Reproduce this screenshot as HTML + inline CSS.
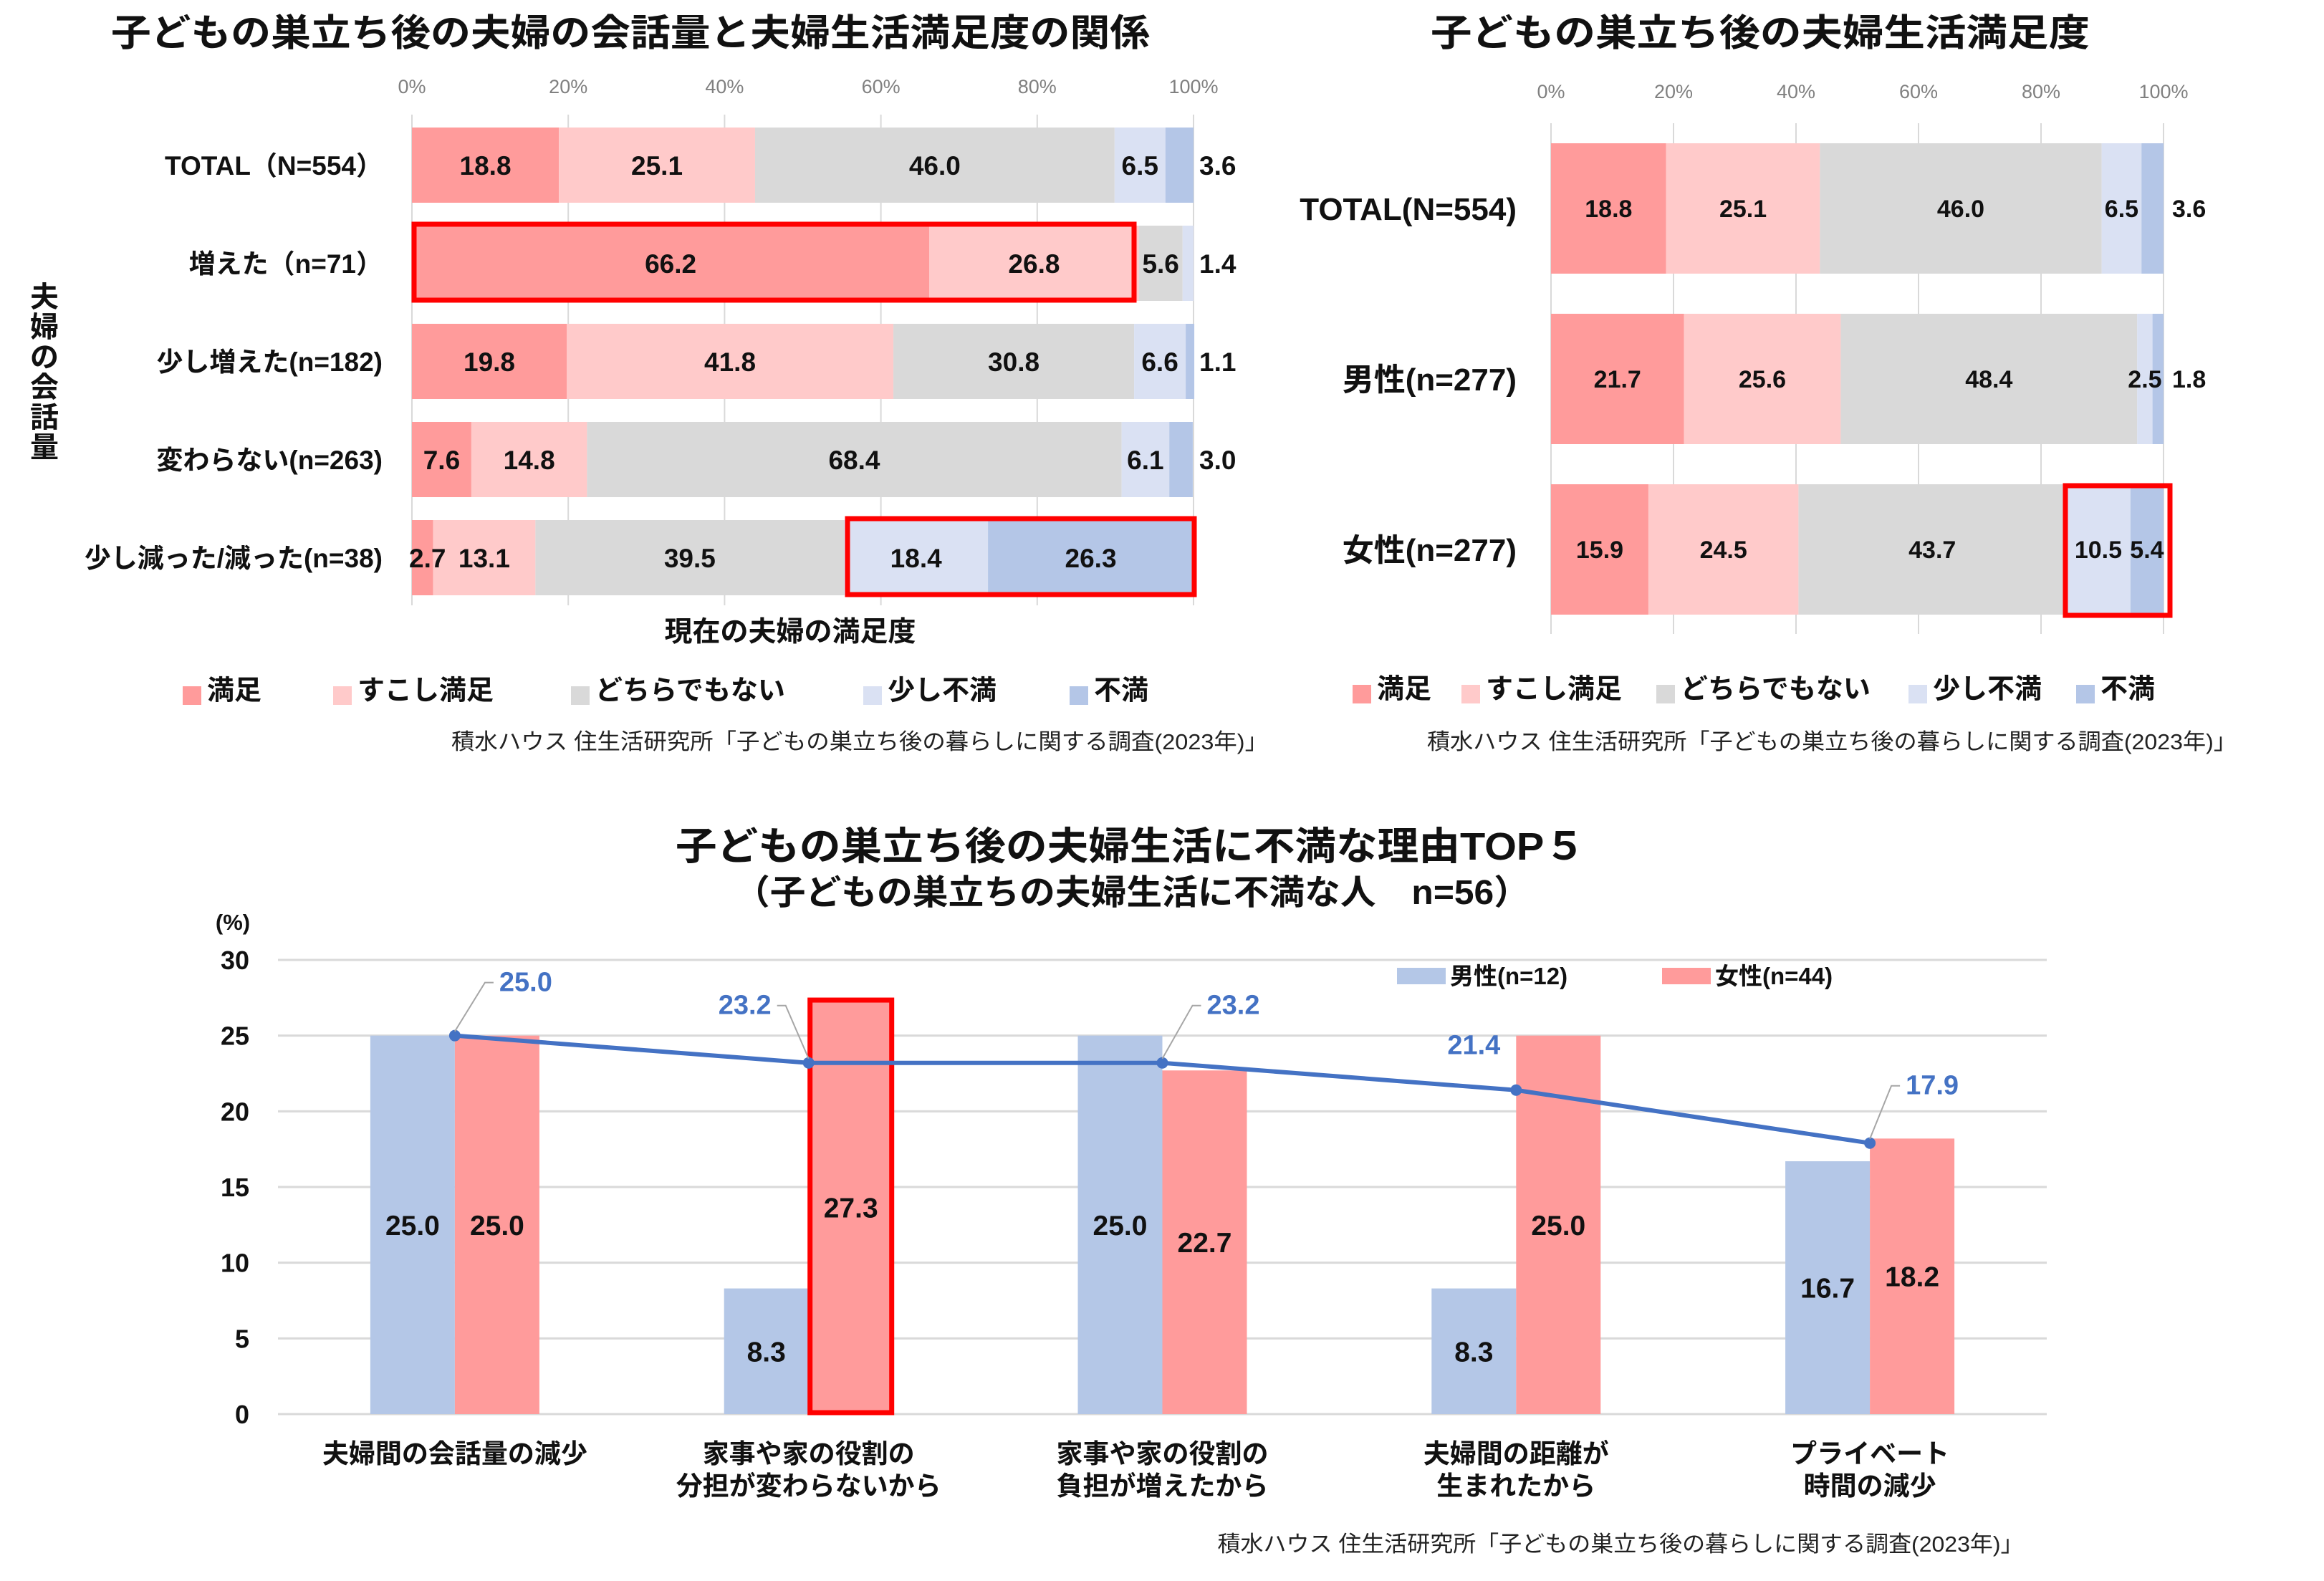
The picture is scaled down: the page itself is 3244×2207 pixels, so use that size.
<!DOCTYPE html>
<html><head><meta charset="utf-8">
<style>
html,body{margin:0;padding:0;background:#fff;}
svg{display:block;font-family:"Liberation Sans","Noto Sans CJK JP",sans-serif;}
</style></head>
<body>
<svg id="root" width="3244" height="2207" viewBox="0 0 3244 2207" xmlns="http://www.w3.org/2000/svg">
<rect x="0" y="0" width="3244" height="2207" fill="#fff"/>
</svg>
<script>
// ---------- Data ----------
const segNames = ['満足','すこし満足','どちらでもない','少し不満','不満'];
const c1Cats = ['TOTAL（N=554）','増えた（n=71）','少し増えた(n=182)','変わらない(n=263)','少し減った/減った(n=38)'];
const c1Sat = [18.8,66.2,19.8,7.6,2.7];
const c1Some = [25.1,26.8,41.8,14.8,13.1];
const c1Neutral = [46.0,5.6,30.8,68.4,39.5];
const c1SlightDis = [6.5,1.4,6.6,6.1,18.4];
const c1Dis = [3.6,0,1.1,3.0,26.3];
const c2Cats = ['TOTAL(N=554)','男性(n=277)','女性(n=277)'];
const c2Sat = [18.8,21.7,15.9];
const c2Some = [25.1,25.6,24.5];
const c2Neutral = [46.0,48.4,43.7];
const c2SlightDis = [6.5,2.5,10.5];
const c2Dis = [3.6,1.8,5.4];
const pctTicks = ['0%','20%','40%','60%','80%','100%'];
const c3Cats = [['夫婦間の会話量の減少'],['家事や家の役割の','分担が変わらないから'],['家事や家の役割の','負担が増えたから'],['夫婦間の距離が','生まれたから'],['プライベート','時間の減少']];
const c3Male = [25.0,8.3,25.0,8.3,16.7];
const c3Female = [25.0,27.3,22.7,25.0,18.2];
const c3Total = [25.0,23.2,23.2,21.4,17.9];
const c3Ticks = [0,5,10,15,20,25,30];

const colors = ['#FF9B9B','#FFCACA','#D9D9D9','#DAE1F3','#B4C6E7'];
const NS='http://www.w3.org/2000/svg';
const root=document.getElementById('root');
function el(tag,attrs,parent,text){const e=document.createElementNS(NS,tag);for(const k in attrs)e.setAttribute(k,attrs[k]);if(text!==undefined)e.textContent=text;(parent||root).appendChild(e);return e;}

// ---------- Stacked chart helper ----------
function stacked(cfg){
  const g=el('g',{});
  
  
  const x=v=>cfg.x0+(cfg.x1-cfg.x0)*v/100;
  for(let i=0;i<pctTicks.length;i++){
    const xv=x(i*20);
    const gl=el('line',{x1:xv,x2:xv,y1:cfg.gy0,y2:cfg.gy1,stroke:'#D9D9D9','stroke-width':2},g);
    
    
    const t=el('text',{x:xv,y:cfg.tickY,'text-anchor':'middle','font-size':27,fill:'#808080'},g,pctTicks[i]);
    
    
  }
  const series=cfg.series;
  for(let r=0;r<cfg.cats.length;r++){
    const yt=cfg.barY0+r*cfg.pitch;
    const cl=el('text',{x:cfg.catX,y:yt+cfg.barH/2+cfg.catSize*0.36,'text-anchor':'end','font-size':cfg.catSize,'font-weight':'bold',fill:'#111'},g,cfg.cats[r]);
    
    
    let acc=0;
    const labels=[];
    for(let s=0;s<5;s++){
      const v=series[s][r];
      const xa=x(acc),xb=x(acc+v);
      acc+=v;
      if(v<=0)continue;
      const rc=el('rect',{x:xa,y:yt,width:xb-xa,height:cfg.barH,fill:colors[s]},g);
      
      
      let lx=(xa+xb)/2,anchor='middle';
      if(s===4 && v<cfg.outsideThresh){lx=x(100)+cfg.outOff;anchor='start';}
      else if(s===3 && v<2){lx=x(100)+cfg.outOff;anchor='start';}
      else if(s===0 && v<4){lx=xa-4;anchor='start';}
      labels.push([lx,anchor,v]);
    }
    labels.forEach(L=>{
      const lb=el('text',{x:L[0],y:yt+cfg.barH/2+cfg.valSize*0.36,'text-anchor':L[1],'font-size':cfg.valSize,'font-weight':'bold',fill:'#111'},g,L[2].toFixed(1));
      
      
    });
  }
  return g;
}

// ---------- Chart 1 ----------
let t=el('text',{x:880,y:64,'text-anchor':'middle','font-size':52,'font-weight':'bold',fill:'#111',textLength:1450,lengthAdjust:'spacingAndGlyphs'},root,'子どもの巣立ち後の夫婦の会話量と夫婦生活満足度の関係');


stacked({name:'chart1-stacked-bars',x0:575,x1:1666,gy0:160,gy1:845,tickY:130,barY0:178,pitch:137,barH:105,cats:c1Cats,catX:534,catSize:37,valSize:37,series:[c1Sat,c1Some,c1Neutral,c1SlightDis,c1Dis],outsideThresh:4,outOff:8});
let rb=el('rect',{x:578,y:313,width:1005,height:106,fill:'none',stroke:'#FF0000','stroke-width':7});


rb=el('rect',{x:1183,y:724,width:484,height:106,fill:'none',stroke:'#FF0000','stroke-width':7});


const yt1=['夫','婦','の','会','話','量'];
const ytg=el('g',{});


yt1.forEach((c,i)=>{el('text',{x:62,y:428+i*42,'text-anchor':'middle','font-size':40,'font-weight':'bold',fill:'#111'},ytg,c);});
t=el('text',{x:1103,y:895,'text-anchor':'middle','font-size':39,'font-weight':'bold',fill:'#111'},root,'現在の夫婦の満足度');


function legend(xs,y,size,fs){
  const lg=el('g',{});
  
  
  for(let i=0;i<5;i++){
    const e=el('g',{},lg);
    
    
    el('rect',{x:xs[i],y:y-size/2+8,width:size,height:size,fill:colors[i]},e);
    el('text',{x:xs[i]+size+8,y:y+fs*0.36,'font-size':fs,'font-weight':'bold',fill:'#111'},e,segNames[i]);
  }
}
legend([255,465,797,1205,1493],963,26,38);
t=el('text',{x:1200,y:1046,'text-anchor':'middle','font-size':31,fill:'#222',textLength:1140,lengthAdjust:'spacingAndGlyphs'},root,'積水ハウス 住生活研究所「子どもの巣立ち後の暮らしに関する調査(2023年)」');



// ---------- Chart 2 ----------
t=el('text',{x:2457,y:64,'text-anchor':'middle','font-size':52,'font-weight':'bold',fill:'#111',textLength:920,lengthAdjust:'spacingAndGlyphs'},root,'子どもの巣立ち後の夫婦生活満足度');


stacked({name:'chart2-stacked-bars',x0:2165,x1:3020,gy0:172,gy1:885,tickY:137,barY0:200,pitch:238,barH:182,cats:c2Cats,catX:2117,catSize:44,valSize:34,series:[c2Sat,c2Some,c2Neutral,c2SlightDis,c2Dis],outsideThresh:4,outOff:12});
rb=el('rect',{x:2883,y:678,width:146,height:181,fill:'none',stroke:'#FF0000','stroke-width':7});


legend([1888,2040,2312,2664,2898],961,26,38);
t=el('text',{x:2557,y:1046,'text-anchor':'middle','font-size':31,fill:'#222',textLength:1130,lengthAdjust:'spacingAndGlyphs'},root,'積水ハウス 住生活研究所「子どもの巣立ち後の暮らしに関する調査(2023年)」');



// ---------- Chart 3 ----------
t=el('text',{x:1578,y:1200,'text-anchor':'middle','font-size':54,'font-weight':'bold',fill:'#111',textLength:1270,lengthAdjust:'spacingAndGlyphs'},root,'子どもの巣立ち後の夫婦生活に不満な理由TOP５');


t=el('text',{x:1580,y:1262,'text-anchor':'middle','font-size':48,'font-weight':'bold',fill:'#111',textLength:1110,lengthAdjust:'spacingAndGlyphs'},root,'（子どもの巣立ちの夫婦生活に不満な人　n=56）');


const P={x0:388,x1:2857,y0:1974,y1:1340};
const yS=v=>P.y0+(P.y1-P.y0)*v/30;
const band=(P.x1-P.x0)/5;
const cx=i=>P.x0+band*(i+0.5);
const bw=118;
const g3=el('g',{});


t=el('text',{x:325,y:1298,'text-anchor':'middle','font-size':31,'font-weight':'bold',fill:'#111'},g3,'(%)');


c3Ticks.forEach(v=>{
  const l=el('line',{x1:P.x0,x2:P.x1,y1:yS(v),y2:yS(v),stroke:'#D9D9D9','stroke-width':3},g3);
  
  
  const tx=el('text',{x:348,y:yS(v)+13,'text-anchor':'end','font-size':36,'font-weight':'bold',fill:'#111'},g3,String(v));
  
  
});
for(let i=0;i<5;i++){
  const m=el('rect',{x:cx(i)-bw,y:yS(c3Male[i]),width:bw,height:yS(0)-yS(c3Male[i]),fill:'#B4C7E7'},g3);
  
  
  const f=el('rect',{x:cx(i),y:yS(c3Female[i]),width:bw,height:yS(0)-yS(c3Female[i]),fill:'#FF9B9B'},g3);
  
  
  const ml=el('text',{x:cx(i)-bw/2,y:(yS(c3Male[i])+yS(0))/2+14,'text-anchor':'middle','font-size':39,'font-weight':'bold',fill:'#111'},g3,c3Male[i].toFixed(1));
  
  
  const fl=el('text',{x:cx(i)+bw/2,y:(yS(c3Female[i])+yS(0))/2+14,'text-anchor':'middle','font-size':39,'font-weight':'bold',fill:'#111'},g3,c3Female[i].toFixed(1));
  
  
  c3Cats[i].forEach((ln,k)=>{
    const cl=el('text',{x:cx(i),y:2042+k*45,'text-anchor':'middle','font-size':37,'font-weight':'bold',fill:'#111'},g3,ln);
    
    
  });
}
rb=el('rect',{x:cx(1)+2,y:yS(27.3)-1,width:bw-4,height:yS(0)-yS(27.3)-1,fill:'none',stroke:'#FF0000','stroke-width':7},g3);


let pts=c3Total.map((v,i)=>cx(i)+','+yS(v)).join(' ');
const pl=el('polyline',{points:pts,fill:'none',stroke:'#4472C4','stroke-width':6,'stroke-linejoin':'round'},g3);


const lblOff=[[62,-62,'start',true],[-52,-68,'end',true],[62,-68,'start',true],[-22,-50,'end',false],[50,-68,'start',true]];
c3Total.forEach((v,i)=>{
  const px=cx(i),py=yS(v);
  const mk=el('circle',{cx:px,cy:py,r:8,fill:'#4472C4'},g3);
  
  
  const o=lblOff[i];
  const lx=px+o[0],ly=py+o[1];
  if(o[3]){
    const ex=o[2]==='start'?lx-8:lx+8;
    const ld=el('polyline',{points:px+','+(py-6)+' '+(ex-(o[2]==='start'?12:-12))+','+(ly-12)+' '+ex+','+(ly-12),fill:'none',stroke:'#A6A6A6','stroke-width':2},g3);
    
    
  }
  const tl=el('text',{x:lx,y:ly,'text-anchor':o[2],'font-size':38,'font-weight':'bold',fill:'#4472C4'},g3,v.toFixed(1));
  
  
});
const lg3=el('g',{});


let le=el('g',{},lg3);


el('rect',{x:1950,y:1351,width:68,height:23,fill:'#B4C7E7'},le);
el('text',{x:2024,y:1374,'font-size':33,'font-weight':'bold',fill:'#111'},le,'男性(n=12)');
le=el('g',{},lg3);


el('rect',{x:2320,y:1351,width:68,height:23,fill:'#FF9B9B'},le);
el('text',{x:2394,y:1374,'font-size':33,'font-weight':'bold',fill:'#111'},le,'女性(n=44)');
t=el('text',{x:2262,y:2166,'text-anchor':'middle','font-size':31,fill:'#222',textLength:1125,lengthAdjust:'spacingAndGlyphs'},root,'積水ハウス 住生活研究所「子どもの巣立ち後の暮らしに関する調査(2023年)」');


</script>
</body></html>
